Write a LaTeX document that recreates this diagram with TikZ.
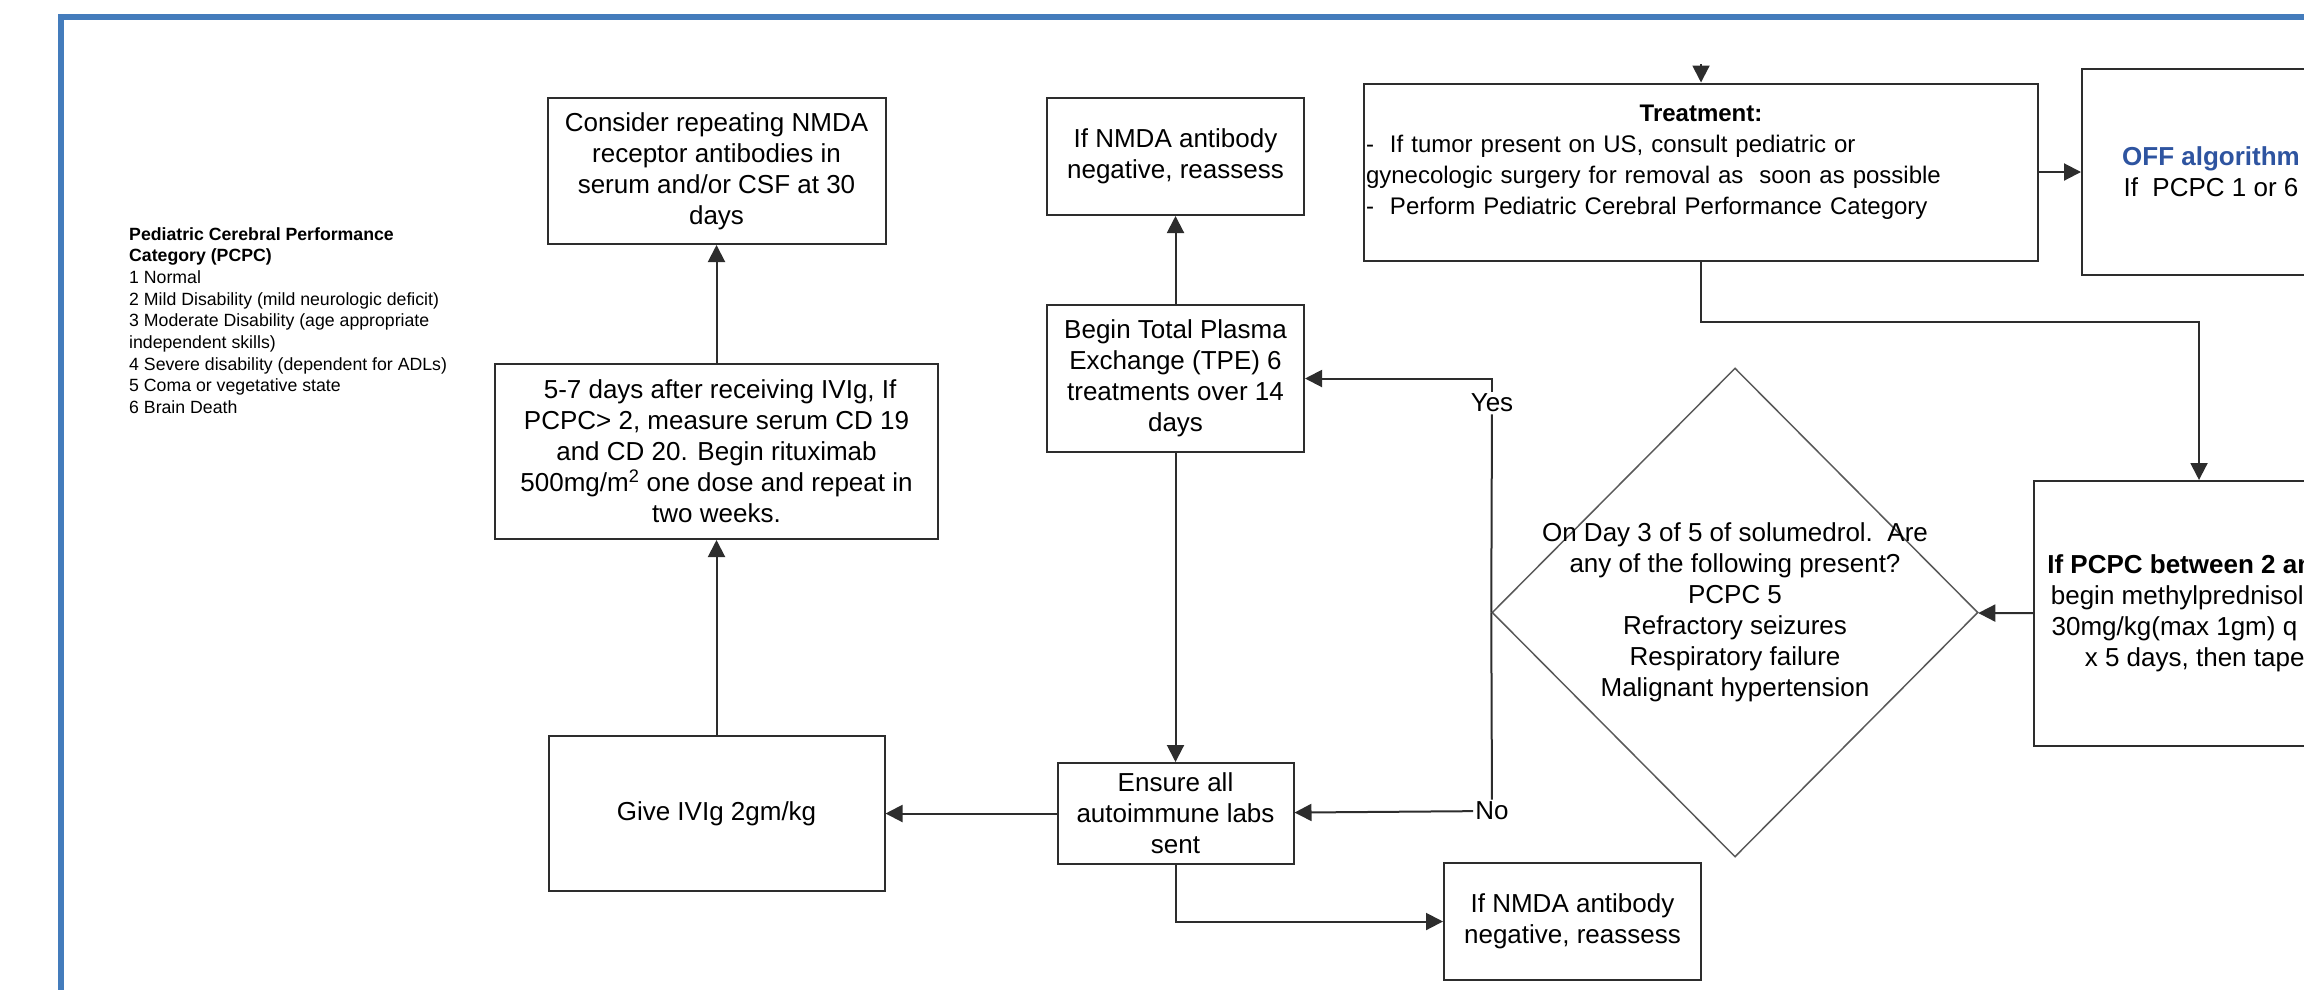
\documentclass[tikz,border=0pt]{standalone}
\usepackage{fontspec}
\setmainfont{Liberation Sans}
\usetikzlibrary{positioning,arrows.meta,shapes.geometric}
\definecolor{frameblue}{RGB}{68,124,188}
\definecolor{offblue}{RGB}{46,84,160}
\definecolor{boxline}{RGB}{45,45,45}

\begin{document}
\begin{tikzpicture}[
  x=1pt, y=-1pt,
  box/.style={draw=boxline, line width=2pt, align=center, inner sep=4pt, font=\fontsize{26}{31}\selectfont},
  decision/.style={diamond, draw=black!65, line width=1.5pt, minimum width=486pt, minimum height=489pt, inner sep=0pt},
  qtext/.style={align=center, inner sep=0pt, font=\fontsize{26}{31}\selectfont},
  choice/.style={fill=white, inner sep=2pt, font=\fontsize{26}{31}\selectfont},
  arrow/.style={-{Triangle[length=17pt,width=17pt]}, line width=2pt, draw=boxline},
  frame/.style={draw=frameblue, line width=6pt}
]
\useasboundingbox (0,0) rectangle (2304,989);
\clip (0,0) rectangle (2304,989);
\draw[frame] (60.5,1010) |- (2320,17);

% PCPC legend
\node[anchor=north west, align=left, inner sep=0pt, font=\fontsize{17.7}{21.7}\selectfont] (pcpc) at (129,227)
  {\textbf{Pediatric Cerebral Performance}\\ \textbf{Category (PCPC)}\\ 1 Normal\\
   2 Mild Disability (mild neurologic deficit)\\ 3 Moderate Disability (age appropriate\\
   independent skills)\\ 4 Severe disability (dependent for ADLs)\\ 5 Coma or vegetative state\\ 6 Brain Death};

% left column
\node[box, minimum width=443pt, minimum height=175pt] (ritux) at (716.5,451.5)
  {\ 5-7 days after receiving IVIg, If\\ PCPC> 2, measure serum CD 19\\ and CD 20. Begin rituximab\\
   500mg/m\textsuperscript{2} one dose and repeat in\\ two weeks.};
\node[box, minimum width=338pt, minimum height=146pt, above=118pt of ritux] (consider)
  {Consider repeating NMDA\\ receptor antibodies in\\ serum and/or CSF at 30\\ days};
\node[box, minimum width=336pt, minimum height=155pt, below=195pt of ritux] (give) {Give IVIg 2gm/kg};

% middle column
\node[box, minimum width=257pt, minimum height=147pt] (tpe) at (1175.5,378.5)
  {Begin Total Plasma\\ Exchange (TPE) 6\\ treatments over 14\\ days};
\node[box, minimum width=257pt, minimum height=117pt, above=88pt of tpe] (nmdat) {If NMDA antibody\\ negative, reassess};
\node[box, minimum width=236pt, minimum height=101pt, below=309pt of tpe] (ensure) {Ensure all\\ autoimmune labs\\ sent};
\node[box, minimum width=257pt, minimum height=117pt] (nmdab) at (1572.5,921.5) {If NMDA antibody\\ negative, reassess};

% right part
\node[box, text width=670pt, align=left, inner xsep=2pt, minimum height=177pt, font=\fontsize{24}{31}\selectfont] (treat) at (1701,172)
  {{\centering\noindent\textbf{Treatment:}\par}
   \noindent-\ \ If tumor present on US, consult pediatric or\\
   gynecologic surgery for removal as\ \ soon as possible\\
   -\ \ Perform Pediatric Cerebral Performance Category\rule[-24pt]{0pt}{1pt}};
\node[box, minimum width=258pt, minimum height=206pt] (off) at (2211,172)
  {\textcolor{offblue}{\textbf{OFF algorithm}}\\ If\ \ PCPC 1 or 6};
\node[box, minimum width=330pt, minimum height=265pt] (methyl) at (2199,613.5)
  {\textbf{If PCPC between 2 and 5}\\ begin methylprednisolone\\ 30mg/kg(max 1gm) q day\\ x 5 days, then taper};
\node[decision, label={[qtext]center:{On Day 3 of 5 of solumedrol.\ \ Are\\ any of the following present?\\ PCPC 5\\
  Refractory seizures\\ Respiratory failure\\ Malignant hypertension}}] (dec) at (1735,612.5) {};
\node[choice] (yes) at (1492,403) {Yes};
\node[choice] (no) at (1492,811) {No};
\coordinate (entry) at (1701,64);

\draw[arrow] (entry) -- (treat);
\draw[arrow] (treat) -- (off);
\draw[arrow] (treat.south) -- ++(0,60) -| (methyl.north);
\draw[arrow] (methyl) -- (dec);
\draw[boxline, line width=2pt] (dec.west) -- (yes);
\draw[arrow] (yes) |- (tpe);
\draw[boxline, line width=2pt] (dec.west) -- (no);
\draw[arrow] (no) -- (ensure);
\draw[arrow] (tpe) -- (nmdat);
\draw[arrow] (tpe) -- (ensure);
\draw[arrow] (ensure) -- (give);
\draw[arrow] (ensure) |- (nmdab);
\draw[arrow] (give) -- (ritux);
\draw[arrow] (ritux) -- (consider);
\end{tikzpicture}
\end{document}
